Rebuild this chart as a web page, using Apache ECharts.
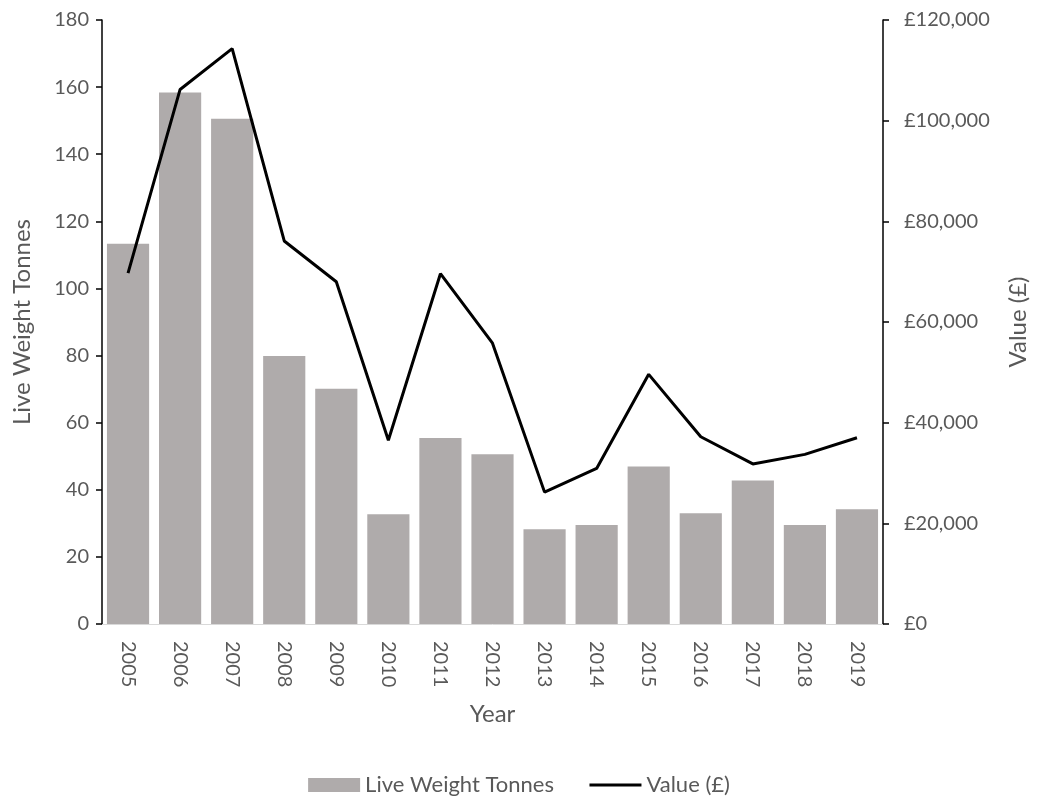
<!DOCTYPE html>
<html>
<head>
<meta charset="utf-8">
<script src="https://cdn.jsdelivr.net/npm/echarts@6/dist/echarts.min.js"></script>
<style>
  html, body { margin: 0; padding: 0; background: #fff; }
  #chart { width: 1038px; height: 798px; }
</style>
</head>
<body>
<div id="chart"></div>
<script>
// Landings by year: live weight (tonnes) and first-sale value (£)
const years = ['2005','2006','2007','2008','2009','2010','2011','2012','2013','2014','2015','2016','2017','2018','2019'];
const liveWeightTonnes = [113.3, 158.4, 150.6, 79.9, 70.1, 32.7, 55.4, 50.6, 28.2, 29.5, 46.9, 33.0, 42.8, 29.5, 34.2];
const valueGBP = [69700, 106200, 114300, 76100, 68000, 36500, 69600, 55800, 26200, 30900, 49600, 37200, 31800, 33700, 37000];
const leftTicks = { min: 0, max: 180, interval: 20 };
const rightTicks = { min: 0, max: 120000, interval: 20000 };

const FONT = 'Lato, "Open Sans", sans-serif';
const GREY_TEXT = '#595959';

const chart = echarts.init(document.getElementById('chart'));
chart.setOption({
  animation: false,
  textStyle: { fontFamily: FONT },
  grid: { left: 102, right: 154, top: 20, bottom: 174, containLabel: false },
  legend: {
    top: 769,
    left: 'center',
    itemWidth: 52,
    itemHeight: 14,
    itemGap: 34,
    textStyle: { fontFamily: FONT, fontSize: 22, color: GREY_TEXT },
    data: [
      { name: 'Live Weight Tonnes', icon: 'rect' },
      { name: 'Value (£)', itemStyle: { opacity: 0 }, lineStyle: { width: 3, color: '#000' } }
    ]
  },
  xAxis: {
    type: 'category',
    data: years,
    name: 'Year',
    nameLocation: 'middle',
    nameGap: 78,
    nameTextStyle: { fontFamily: FONT, fontSize: 24, color: GREY_TEXT },
    axisLine: { lineStyle: { color: '#d9d9d9', width: 1 } },
    axisTick: { show: false },
    axisLabel: { rotate: -90, margin: 17, fontFamily: FONT, fontSize: 20, color: GREY_TEXT }
  },
  yAxis: [
    {
      type: 'value',
      min: leftTicks.min, max: leftTicks.max, interval: leftTicks.interval,
      name: 'Live Weight Tonnes',
      nameLocation: 'middle',
      nameGap: 68,
      nameTextStyle: { fontFamily: FONT, fontSize: 24, color: GREY_TEXT },
      axisLine: { show: true, lineStyle: { color: '#000', width: 1.5 } },
      axisTick: { show: true, length: 6, lineStyle: { color: '#000', width: 1.5 } },
      splitLine: { show: false },
      axisLabel: { margin: 13, fontFamily: FONT, fontSize: 20, color: GREY_TEXT }
    },
    {
      type: 'value',
      position: 'right',
      min: rightTicks.min, max: rightTicks.max, interval: rightTicks.interval,
      name: 'Value (£)',
      nameLocation: 'middle',
      nameGap: 123,
      nameTextStyle: { fontFamily: FONT, fontSize: 24, color: GREY_TEXT },
      axisLine: { show: true, lineStyle: { color: '#000', width: 1.5 } },
      axisTick: { show: true, length: 6, lineStyle: { color: '#000', width: 1.5 } },
      splitLine: { show: false },
      axisLabel: {
        margin: 21, fontFamily: FONT, fontSize: 20, color: GREY_TEXT,
        formatter: v => '£' + v.toLocaleString('en-GB')
      }
    }
  ],
  series: [
    {
      name: 'Live Weight Tonnes',
      type: 'bar',
      yAxisIndex: 0,
      data: liveWeightTonnes,
      barCategoryGap: '19%',
      itemStyle: { color: '#afabab' }
    },
    {
      name: 'Value (£)',
      type: 'line',
      yAxisIndex: 1,
      data: valueGBP,
      symbol: 'none',
      lineStyle: { color: '#000', width: 3 },
      itemStyle: { color: '#000' }
    }
  ]
});
</script>
</body>
</html>
